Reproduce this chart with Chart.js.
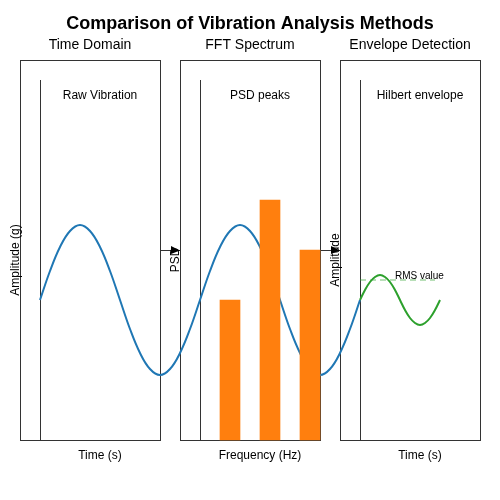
<!DOCTYPE html>
<html>
<head>
<script src="https://cdn.jsdelivr.net/npm/chart.js@4"></script>
<style>body{margin:0;background:#fff}</style>
</head>
<body>
<canvas id="c" width="500" height="500"></canvas>
<script>
// chart units: x = pixels from left, y = 500 - pixels from top
const panelTitles = ["Time Domain", "FFT Spectrum", "Envelope Detection"];
const panelNotes = ["Raw Vibration", "PSD peaks", "Hilbert envelope"];
const xTitles = ["Time (s)", "Frequency (Hz)", "Time (s)"];
const yTitles = ["Amplitude (g)", "PSD", "Amplitude"];
const panelLeft = [20, 180, 340];

// raw vibration trace
const rawX = [40,50,60,70,80,90,100,110,120,130,140,150,160,170,180,190,200,210,220,230,240,250,260,270,280,290,300,310,320,330,340,350,360];
const rawY = [200,229,253,269,275,269,253,229,200,171,147,131,125,131,147,171,200,229,253,269,275,269,253,229,200,171,147,131,125,131,147,171,200];

// spectrum peaks
const peakX = [230, 270, 310];
const peakY = [200, 300, 250];
const peakBase = 60;

// envelope trace
const envX = [360,365,370,375,380,385,390,395,400,405,410,415,420,425,430,435,440];
const envY = [200,210,218,223,225,223,218,210,200,190,182,177,175,177,182,190,200];
const rmsLevel = 220;

const decor = {
  id: 'decor',
  beforeDatasetsDraw(chart) {
    const {ctx, scales: {x, y}} = chart;
    const px = v => x.getPixelForValue(v), py = v => y.getPixelForValue(v);
    ctx.save();
    ctx.strokeStyle = '#333';
    ctx.lineWidth = 1;
    panelLeft.forEach(l => {
      ctx.strokeRect(px(l) + .5, py(440) + .5, px(l + 140) - px(l), py(60) - py(440));
      ctx.beginPath();
      ctx.moveTo(px(l + 20) + .5, py(420));
      ctx.lineTo(px(l + 20) + .5, py(60) + .5);
      ctx.lineTo(px(l + 140), py(60) + .5);
      ctx.stroke();
    });
    // arrows between panels
    ctx.fillStyle = '#000';
    [160, 320].forEach(a => {
      ctx.beginPath();
      ctx.moveTo(px(a), py(250) + .5);
      ctx.lineTo(px(a + 20), py(250) + .5);
      ctx.stroke();
      ctx.beginPath();
      ctx.moveTo(px(a + 20), py(250) + .5);
      ctx.lineTo(px(a + 11), py(254));
      ctx.lineTo(px(a + 11), py(246));
      ctx.fill();
    });
    ctx.restore();
  },
  afterDraw(chart) {
    const {ctx, scales: {x, y}} = chart;
    const px = v => x.getPixelForValue(v), py = v => y.getPixelForValue(v);
    ctx.save();
    ctx.fillStyle = '#000';
    ctx.textAlign = 'center';
    ctx.textBaseline = 'middle';
    ctx.font = 'bold 18px "Liberation Sans", Arial, sans-serif';
    ctx.fillText("Comparison of Vibration Analysis Methods", 250, 24);
    panelLeft.forEach((l, i) => {
      ctx.font = '14px "Liberation Sans", Arial, sans-serif';
      ctx.fillText(panelTitles[i], px(l + 70), 45);
      ctx.font = '12px "Liberation Sans", Arial, sans-serif';
      ctx.fillText(panelNotes[i], px(l + 80), 96);
      ctx.fillText(xTitles[i], px(l + 80), 456);
      ctx.save();
      ctx.translate(px(l) - 4, 260);
      ctx.rotate(-Math.PI / 2);
      ctx.fillText(yTitles[i], 0, 0);
      ctx.restore();
    });
    ctx.font = '10px "Liberation Sans", Arial, sans-serif';
    ctx.textAlign = 'left';
    ctx.fillText("RMS value", px(395), py(224));
    ctx.restore();
  }
};

new Chart(document.getElementById('c'), {
  data: {
    datasets: [
      {type: 'line', order: 3, data: rawX.map((v, i) => ({x: v, y: rawY[i]})),
       borderColor: '#1f77b4', borderWidth: 2, pointRadius: 0, tension: 0.4},
      {type: 'bar', order: 2, data: peakX.map((v, i) => ({x: v, y: [peakBase, peakY[i]]})),
       backgroundColor: '#ff7f0e', barThickness: 20},
      {type: 'line', order: 1, data: [{x: 360, y: rmsLevel}, {x: 435, y: rmsLevel}],
       borderColor: 'rgba(44,160,44,0.45)', borderDash: [6, 4], borderWidth: 1.5, pointRadius: 0},
      {type: 'line', order: 0, data: envX.map((v, i) => ({x: v, y: envY[i]})),
       borderColor: '#2ca02c', borderWidth: 2, pointRadius: 0, tension: 0.4}
    ]
  },
  options: {
    responsive: false,
    animation: false,
    layout: {padding: 0},
    plugins: {legend: {display: false}, tooltip: {enabled: false}},
    scales: {
      x: {type: 'linear', min: 0, max: 500, offset: false, display: false},
      y: {type: 'linear', min: 0, max: 500, display: false}
    }
  },
  plugins: [decor]
});
</script>
</body>
</html>
